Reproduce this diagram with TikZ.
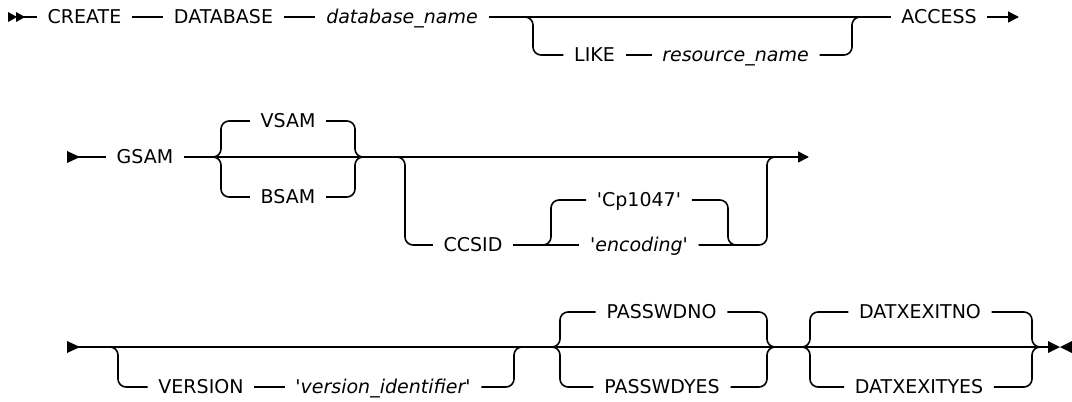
\documentclass[tikz,border=0pt]{standalone}
\usepackage{fontspec}
\newfontfamily\rr{DejaVu Sans}
\usetikzlibrary{arrows.meta}
\begin{document}
\begin{tikzpicture}[x=1pt,y=-1pt,
  line width=1.6pt,
  kw/.style={font=\rr\fontsize{19}{22}\selectfont, inner xsep=10pt, inner ysep=0pt, text height=13.85pt, text depth=0pt},
  var/.style={kw, font=\rr\fontsize{19}{22}\selectfont\itshape},
  br/.style={rounded corners=8pt},
  tipend/.style={-{Triangle[length=11pt,width=11pt]}}]
\useasboundingbox (0,0) rectangle (1072,402);
% ---------- row 1 ----------
\fill (8,12) -- (17,17) -- (8,22) -- cycle;
\fill (16,12) -- (25,17) -- (16,22) -- cycle;
\coordinate (s1) at (20,17);
\node[kw] (create) at (84.5,17) {CREATE};
\node[kw] (database) at (223.5,17) {DATABASE};
\node[var] (dbname) at (402,17) {database\_name};
\node[kw] (like) at (594.5,55) {LIKE};
\node[var] (resname) at (735.5,55) {resource\_name};
\node[kw] (access) at (939,17) {ACCESS};
\coordinate (e1) at (1019,17);
\coordinate (b1a) at (533,17);
\coordinate (b1b) at (852,17);
\draw (s1) -- (create);
\draw (create) -- (database);
\draw (database) -- (dbname);
\draw (dbname) -- (access);
\draw[br] ([xshift=-10pt]b1a) -- (b1a) |- (like);
\draw (like) -- (resname);
\draw[br] (resname) -| (b1b) -- ++(10,0);
\draw[tipend] (access) -- (e1);
% ---------- row 2 ----------
\fill (67,151) -- (80,157) -- (67,163) -- cycle;
\coordinate (s2) at (77,157);
\node[kw] (gsam) at (145,157) {GSAM};
\node[kw] (vsam) at (288,121) {VSAM};
\node[kw] (bsam) at (288,197) {BSAM};
\node[kw] (ccsid) at (473,245) {CCSID};
\node[kw] (cp) at (639,200) {'Cp1047'};
\node[var] (enc) at (639,245) {'encoding'};
\coordinate (e2) at (809,157);
\coordinate (j2a) at (221,157);
\coordinate (j2b) at (355,157);
\coordinate (j2c) at (405,157);
\coordinate (j2d) at (551,245);
\coordinate (j2e) at (728,245);
\coordinate (j2f) at (767,157);
\draw (s2) -- (gsam);
\draw[tipend] (gsam) -- (e2);
\draw[br] (vsam) -| (j2a) -- ++(-8,0);
\draw[br] (bsam) -| (j2a) -- ++(-8,0);
\draw[br] (vsam) -| (j2b) -- ++(8,0);
\draw[br] (bsam) -| (j2b) -- ++(8,0);
\draw[br] ([xshift=-10pt]j2c) -- (j2c) |- (ccsid);
\draw (ccsid) -- (enc);
\draw[br] ([xshift=-10pt]j2d) -- (j2d) |- (cp);
\draw[br] (cp) -| (j2e) -- ++(10,0);
\draw[br] (enc) -| (j2f) -- ++(10,0);
% ---------- row 3 ----------
\fill (67,341) -- (80,347) -- (67,353) -- cycle;
\coordinate (s3) at (77,347);
\coordinate (e3) at (1050,347);
\fill (1048,341) -- (1060,347) -- (1048,353) -- cycle;
\fill (1072,341) -- (1060,347) -- (1072,353) -- cycle;
\draw (s3) -- (e3);
\node[kw] (version) at (201,387) {VERSION};
\node[var] (vid) at (383,387) {'version\_identifier'};
\node[kw] (pno) at (661.5,312) {PASSWDNO};
\node[kw] (pyes) at (662,387) {PASSWDYES};
\node[kw] (dno) at (920,312) {DATXEXITNO};
\node[kw] (dyes) at (919,387) {DATXEXITYES};
\coordinate (j3a) at (118,347);
\coordinate (j3b) at (514,347);
\coordinate (j3c) at (560,347);
\coordinate (j3d) at (767,347);
\coordinate (j3e) at (810,347);
\coordinate (j3f) at (1032,347);
\draw[br] ([xshift=-8pt]j3a) -- (j3a) |- (version);
\draw (version) -- (vid);
\draw[br] (vid) -| (j3b) -- ++(8,0);
\draw[br] (pno) -| (j3c) -- ++(-8,0);
\draw[br] (pyes) -| (j3c) -- ++(-8,0);
\draw[br] (pno) -| (j3d) -- ++(8,0);
\draw[br] (pyes) -| (j3d) -- ++(8,0);
\draw[br] (dno) -| (j3e) -- ++(-8,0);
\draw[br] (dyes) -| (j3e) -- ++(-8,0);
\draw[br] (dno) -| (j3f) -- ++(8,0);
\draw[br] (dyes) -| (j3f) -- ++(8,0);
\end{tikzpicture}
\end{document}
